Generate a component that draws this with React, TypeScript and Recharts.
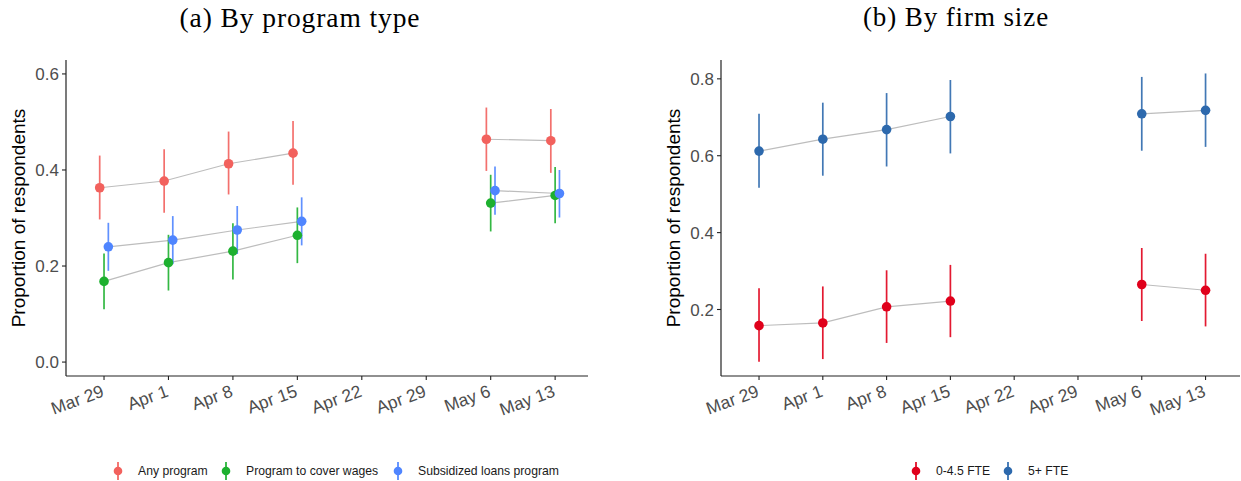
import React from "react";
import { LineChart, Line, XAxis, YAxis, ErrorBar } from "recharts";

const dates = ["Mar 29", "Apr 1", "Apr 8", "Apr 15", "Apr 22", "Apr 29", "May 6", "May 13"];

// (a) by program type
const anyProgram = [0.363, 0.377, 0.413, 0.435, null, null, 0.464, 0.461];
const anyLow = [0.297, 0.311, 0.349, 0.369, null, null, 0.398, 0.394];
const anyHigh = [0.43, 0.443, 0.48, 0.502, null, null, 0.53, 0.527];
const wages = [0.168, 0.207, 0.231, 0.264, null, null, 0.331, 0.347];
const wagesLow = [0.11, 0.149, 0.172, 0.206, null, null, 0.272, 0.289];
const wagesHigh = [0.226, 0.265, 0.289, 0.322, null, null, 0.39, 0.406];
const loans = [0.24, 0.254, 0.275, 0.293, null, null, 0.357, 0.351];
const loansLow = [0.19, 0.204, 0.225, 0.243, null, null, 0.307, 0.301];
const loansHigh = [0.29, 0.304, 0.325, 0.343, null, null, 0.407, 0.4];

// (b) by firm size
const small = [0.158, 0.165, 0.207, 0.222, null, null, 0.265, 0.25];
const smallLow = [0.064, 0.071, 0.113, 0.128, null, null, 0.17, 0.156];
const smallHigh = [0.255, 0.26, 0.302, 0.316, null, null, 0.36, 0.345];
const large = [0.612, 0.643, 0.668, 0.702, null, null, 0.709, 0.718];
const largeLow = [0.517, 0.548, 0.572, 0.606, null, null, 0.613, 0.623];
const largeHigh = [0.709, 0.738, 0.763, 0.797, null, null, 0.805, 0.814];

const leftTicks = [0, 0.2, 0.4, 0.6];
const rightTicks = [0.2, 0.4, 0.6, 0.8];
const xTicks = [0, 1, 2, 3, 4, 5, 6, 7];

const FONT = "'Liberation Sans', Arial, sans-serif";

type Pt = { x: number; y: number | null; err: number[] | null };

const buildSeries = (
  vals: (number | null)[],
  lo: (number | null)[],
  hi: (number | null)[],
  shift: number
): Pt[] =>
  vals.map((v, i) => ({
    x: i + shift,
    y: v,
    err: v == null ? null : [v - (lo[i] as number), (hi[i] as number) - v],
  }));

const leftSeries = [
  { name: "Any program", color: "#F2615D", data: buildSeries(anyProgram, anyLow, anyHigh, -0.067) },
  { name: "Program to cover wages", color: "#1DB02F", data: buildSeries(wages, wagesLow, wagesHigh, 0) },
  { name: "Subsidized loans program", color: "#4F85FF", data: buildSeries(loans, loansLow, loansHigh, 0.067) },
];

const rightSeries = [
  { name: "0-4.5 FTE", color: "#E0001B", data: buildSeries(small, smallLow, smallHigh, 0) },
  { name: "5+ FTE", color: "#2D69AD", data: buildSeries(large, largeLow, largeHigh, 0) },
];

const XTick = (props: any) => {
  const { x, y, payload } = props;
  const tx = x + 1;
  const ty = y + 14;
  return (
    <text
      x={tx}
      y={ty}
      transform={`rotate(-20 ${tx} ${ty})`}
      textAnchor="end"
      fill="#4d4d4d"
      fontSize={17.5}
      fontFamily={FONT}
    >
      {dates[payload.value]}
    </text>
  );
};

type Series = { name: string; color: string; data: Pt[] };

const Panel = ({
  series,
  width,
  yAxisWidth,
  marginRight,
  yDomain,
  yTicks,
  xDomain,
  labelOffset,
}: {
  series: Series[];
  width: number;
  yAxisWidth: number;
  marginRight: number;
  yDomain: number[];
  yTicks: number[];
  xDomain: number[];
  labelOffset: number;
}) => (
  <LineChart width={width} height={481} margin={{ top: 60, right: marginRight, left: 0, bottom: 45 }}>
    <XAxis
      type="number"
      dataKey="x"
      domain={xDomain}
      ticks={xTicks}
      allowDataOverflow
      height={60}
      tick={<XTick />}
      tickSize={4}
      axisLine={{ stroke: "#222", strokeWidth: 1.2 }}
      tickLine={{ stroke: "#222", strokeWidth: 1.1 }}
    />
    <YAxis
      type="number"
      domain={yDomain}
      ticks={yTicks}
      allowDataOverflow
      width={yAxisWidth}
      tickSize={4}
      tickMargin={3}
      tickFormatter={(v: number) => v.toFixed(1)}
      tick={{ fill: "#4d4d4d", fontSize: 17, fontFamily: FONT }}
      axisLine={{ stroke: "#222", strokeWidth: 1.2 }}
      tickLine={{ stroke: "#222", strokeWidth: 1.1 }}
      label={{
        value: "Proportion of respondents",
        angle: -90,
        position: "insideLeft",
        offset: labelOffset,
        style: { textAnchor: "middle", fill: "#000", fontSize: 19, fontFamily: FONT },
      }}
    />
    {series.map((s) => (
      <Line
        key={s.name + "-line"}
        data={s.data}
        dataKey="y"
        stroke="#bdbdbd"
        strokeWidth={1.2}
        dot={false}
        activeDot={false}
        isAnimationActive={false}
      />
    ))}
    {series.map((s) => (
      <Line
        key={s.name}
        data={s.data}
        dataKey="y"
        stroke="none"
        dot={{ r: 4.8, fill: s.color, stroke: "none" }}
        activeDot={false}
        isAnimationActive={false}
      >
        <ErrorBar dataKey="err" direction="y" width={0} stroke={s.color} strokeWidth={1.7} strokeOpacity={0.9} />
      </Line>
    ))}
  </LineChart>
);

// legend: icon centre x for each entry
const LegendRow = ({ series, iconX }: { series: Series[]; iconX: number[] }) => (
  <>
    {series.map((s, i) => (
      <div
        key={s.name}
        style={{
          position: "absolute",
          left: iconX[i] - 8,
          top: 461,
          display: "flex",
          alignItems: "center",
          fontFamily: FONT,
          fontSize: 12.2,
          color: "#1a1a1a",
          whiteSpace: "nowrap",
        }}
      >
        <svg width={16} height={20} style={{ marginRight: 12 }}>
          <line x1={8} y1={1} x2={8} y2={19} stroke={s.color} strokeWidth={1.7} />
          <circle cx={8} cy={10} r={4.3} fill={s.color} />
        </svg>
        <span>{s.name}</span>
      </div>
    ))}
  </>
);

const titleStyle: React.CSSProperties = {
  position: "absolute",
  top: 2,
  width: 620,
  textAlign: "center",
  fontFamily: "'Liberation Serif', 'Times New Roman', serif",
  fontSize: 27.5,
  letterSpacing: 0.9,
  color: "#000",
};

export default function App() {
  return (
    <div style={{ position: "absolute", left: 0, top: 0, width: 1241, height: 481, background: "#fff" }}>
      <div style={{ ...titleStyle, left: -10 }}>(a) By program type</div>
      <div style={{ ...titleStyle, left: 646, fontSize: 27 }}>(b) By firm size</div>
      <div style={{ position: "absolute", left: 0, top: 0 }}>
        <Panel
          series={leftSeries}
          width={620}
          yAxisWidth={66}
          marginRight={32}
          yDomain={[-0.029, 0.629]}
          yTicks={leftTicks}
          xDomain={[-0.59, 7.51]}
          labelOffset={18}
        />
      </div>
      <div style={{ position: "absolute", left: 620, top: 0 }}>
        <Panel
          series={rightSeries}
          width={621}
          yAxisWidth={101}
          marginRight={1}
          yDomain={[0.027, 0.849]}
          yTicks={rightTicks}
          xDomain={[-0.596, 7.54]}
          labelOffset={53}
        />
      </div>
      <LegendRow series={leftSeries} iconX={[118, 226, 398]} />
      <LegendRow series={rightSeries} iconX={[916, 1008]} />
    </div>
  );
}
